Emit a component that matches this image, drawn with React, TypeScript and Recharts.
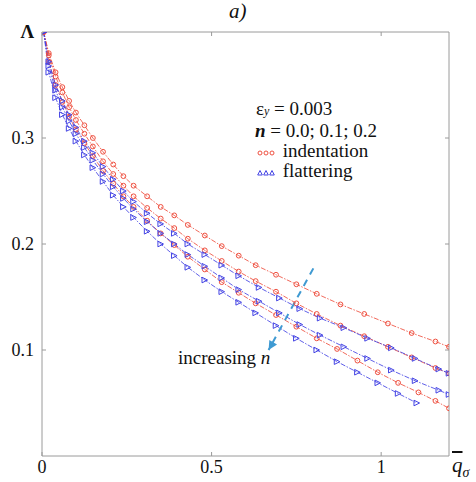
import React from "react";
import {
  LineChart,
  Line,
  XAxis,
  YAxis,
} from "recharts";

// indentation (red), n = 0.0; 0.1; 0.2
const xR0 = [0.005, 0.02, 0.04, 0.06, 0.08, 0.1, 0.125, 0.15, 0.18, 0.21, 0.24, 0.27, 0.31, 0.35, 0.39, 0.43, 0.48, 0.53, 0.58, 0.63, 0.69, 0.75, 0.81, 0.88, 0.95, 1.02, 1.09, 1.16, 1.2];
const yR0 = [0.4, 0.38, 0.362, 0.348, 0.335, 0.324, 0.312, 0.3, 0.287, 0.275, 0.264, 0.255, 0.245, 0.235, 0.227, 0.218, 0.208, 0.198, 0.189, 0.18, 0.171, 0.162, 0.153, 0.143, 0.134, 0.125, 0.116, 0.108, 0.103];

const xR1 = [0.005, 0.02, 0.04, 0.06, 0.08, 0.1, 0.125, 0.15, 0.18, 0.21, 0.24, 0.27, 0.31, 0.35, 0.39, 0.43, 0.48, 0.53, 0.58, 0.63, 0.69, 0.75, 0.81, 0.88, 0.95, 1.02, 1.09, 1.16, 1.2];
const yR1 = [0.4, 0.378, 0.358, 0.343, 0.329, 0.317, 0.304, 0.292, 0.278, 0.266, 0.255, 0.245, 0.234, 0.224, 0.215, 0.205, 0.194, 0.184, 0.174, 0.165, 0.155, 0.144, 0.134, 0.123, 0.113, 0.103, 0.093, 0.083, 0.078];

const xR2 = [0.005, 0.02, 0.04, 0.06, 0.08, 0.1, 0.125, 0.15, 0.18, 0.21, 0.24, 0.27, 0.31, 0.35, 0.39, 0.43, 0.48, 0.53, 0.58, 0.63, 0.69, 0.75, 0.81, 0.87, 0.93, 0.99, 1.05, 1.11, 1.16, 1.2];
const yR2 = [0.4, 0.372, 0.35, 0.334, 0.32, 0.308, 0.295, 0.283, 0.269, 0.257, 0.245, 0.235, 0.222, 0.21, 0.199, 0.188, 0.176, 0.164, 0.154, 0.144, 0.133, 0.122, 0.111, 0.101, 0.09, 0.079, 0.069, 0.06, 0.052, 0.045];

// flattering (blue), n = 0.0; 0.1; 0.2
const xB0 = [0.005, 0.02, 0.04, 0.06, 0.08, 0.1, 0.125, 0.15, 0.18, 0.21, 0.24, 0.27, 0.31, 0.35, 0.39, 0.43, 0.48, 0.53, 0.58, 0.64, 0.7, 0.76, 0.82, 0.89, 0.96, 1.03, 1.1, 1.17, 1.2];
const yB0 = [0.4, 0.372, 0.35, 0.335, 0.322, 0.31, 0.297, 0.286, 0.273, 0.261, 0.25, 0.24, 0.229, 0.219, 0.21, 0.2, 0.19, 0.18, 0.17, 0.159, 0.149, 0.139, 0.13, 0.121, 0.111, 0.102, 0.092, 0.082, 0.078];

const xB1 = [0.005, 0.02, 0.04, 0.06, 0.08, 0.1, 0.125, 0.15, 0.18, 0.21, 0.24, 0.27, 0.31, 0.35, 0.39, 0.43, 0.48, 0.53, 0.58, 0.64, 0.7, 0.76, 0.82, 0.89, 0.96, 1.03, 1.1, 1.17, 1.2];
const yB1 = [0.4, 0.368, 0.345, 0.329, 0.316, 0.304, 0.291, 0.279, 0.266, 0.254, 0.243, 0.233, 0.221, 0.21, 0.2, 0.19, 0.179, 0.168, 0.157, 0.146, 0.135, 0.124, 0.114, 0.103, 0.092, 0.081, 0.071, 0.062, 0.058];

const xB2 = [0.005, 0.02, 0.04, 0.06, 0.08, 0.1, 0.125, 0.15, 0.18, 0.21, 0.24, 0.27, 0.31, 0.35, 0.39, 0.43, 0.48, 0.53, 0.58, 0.63, 0.69, 0.75, 0.81, 0.87, 0.93, 0.99, 1.05, 1.105];
const yB2 = [0.4, 0.362, 0.338, 0.322, 0.309, 0.297, 0.284, 0.272, 0.259, 0.246, 0.235, 0.225, 0.212, 0.2, 0.189, 0.178, 0.166, 0.155, 0.145, 0.135, 0.123, 0.111, 0.1, 0.089, 0.079, 0.069, 0.059, 0.05];

// "increasing n" arrow
const arrowX = [0.8, 0.668];
const arrowY = [0.177, 0.1];

const xTicks = [0, 0.5, 1];
const yTicks = [0.1, 0.2, 0.3, 0.4];

const RED = "#ef5040";
const BLUE = "#4444e4";
const ARROW = "#3f9ad2";
const AXIS = "#9a9a9a";
const FONT = "'Liberation Serif', 'Times New Roman', serif";

const pts = (xs: number[], ys: number[]) => xs.map((x, i) => ({ x, y: ys[i] }));

const series = [
  { key: "r0", data: pts(xR0, yR0), color: RED, kind: "circle" },
  { key: "r1", data: pts(xR1, yR1), color: RED, kind: "circle" },
  { key: "r2", data: pts(xR2, yR2), color: RED, kind: "circle" },
  { key: "b0", data: pts(xB0, yB0), color: BLUE, kind: "tri" },
  { key: "b1", data: pts(xB1, yB1), color: BLUE, kind: "tri" },
  { key: "b2", data: pts(xB2, yB2), color: BLUE, kind: "tri" },
];

const CircleDot = (props: any) => {
  const { cx, cy, index } = props;
  if (cx == null || cy == null) return <g key={index} />;
  return <circle key={index} cx={cx} cy={cy} r={2.4} fill="none" stroke={RED} strokeWidth={1} />;
};

const TriDot = (props: any) => {
  const { cx, cy, index } = props;
  if (cx == null || cy == null) return <g key={index} />;
  const s = 2.8;
  return (
    <polygon
      key={index}
      points={`${cx + s},${cy} ${cx - s},${cy - s} ${cx - s},${cy + s}`}
      fill="none"
      stroke={BLUE}
      strokeWidth={1}
    />
  );
};

const ArrowDot = (props: any) => {
  const { cx, cy, index } = props;
  if (index !== 1 || cx == null) return <g key={index} />;
  const ang = Math.atan2(70, -42);
  const len = 9;
  const w = 4.5;
  const bx = cx - Math.cos(ang) * len;
  const by = cy - Math.sin(ang) * len;
  const px = -Math.sin(ang) * w;
  const py = Math.cos(ang) * w;
  return (
    <polygon
      key={index}
      points={`${cx},${cy} ${bx + px},${by + py} ${bx - px},${by - py}`}
      fill={ARROW}
      stroke="none"
    />
  );
};

const XTick = (props: any) => {
  const { x, y, payload } = props;
  return (
    <g>
      <line x1={x} y1={y} x2={x} y2={y - 4} stroke={AXIS} />
      <text x={x} y={y + 17} textAnchor="middle" fontFamily={FONT} fontSize={18} fill="#111">
        {String(payload.value)}
      </text>
    </g>
  );
};

const XTopTick = (props: any) => {
  const { x, y } = props;
  return <line x1={x} y1={y} x2={x} y2={y + 4} stroke={AXIS} />;
};

const YTick = (props: any) => {
  const { x, y, payload } = props;
  const v = payload.value;
  return (
    <g>
      {v < 0.35 && <line x1={x} y1={y} x2={x + 4} y2={y} stroke={AXIS} />}
      <text
        x={x - 8}
        y={y + 6}
        textAnchor="end"
        fontFamily={FONT}
        fontSize={v > 0.35 ? 19 : 18}
        fontWeight={v > 0.35 ? "bold" : "normal"}
        fill="#111"
      >
        {v > 0.35 ? "Λ" : v.toFixed(1)}
      </text>
    </g>
  );
};

const YRightTick = (props: any) => {
  const { x, y, payload } = props;
  if (payload.value > 0.35) return <g />;
  return <line x1={x} y1={y} x2={x - 4} y2={y} stroke={AXIS} />;
};

const LegendMarks = ({ kind }: { kind: string }) => (
  <svg width={18} height={8} style={{ verticalAlign: "middle" }}>
    {[3, 9, 15].map((cx) =>
      kind === "circle" ? (
        <circle key={cx} cx={cx} cy={4} r={2} fill="none" stroke={RED} strokeWidth={1} />
      ) : (
        <polygon
          key={cx}
          points={`${cx},${1.5} ${cx - 2.3},${6} ${cx + 2.3},${6}`}
          fill="none"
          stroke={BLUE}
          strokeWidth={1}
        />
      )
    )}
  </svg>
);

const txt: React.CSSProperties = {
  position: "absolute",
  fontFamily: FONT,
  color: "#111",
  whiteSpace: "nowrap",
  lineHeight: 1,
};

export default function App() {
  return (
    <div style={{ position: "absolute", left: 0, top: 0, width: 476, height: 482, background: "#fff" }}>
      <LineChart width={476} height={482} margin={{ top: 0, right: 0, bottom: 0, left: 0 }}>
        <XAxis
          xAxisId="b"
          type="number"
          dataKey="x"
          domain={[0, 1.2]}
          ticks={xTicks}
          height={26}
          tickSize={0}
          tickMargin={0}
          axisLine={{ stroke: AXIS }}
          tickLine={false}
          tick={<XTick />}
          interval={0}
          allowDataOverflow
        />
        <XAxis
          xAxisId="t"
          orientation="top"
          type="number"
          dataKey="x"
          domain={[0, 1.2]}
          ticks={xTicks}
          height={32}
          tickSize={0}
          tickMargin={0}
          axisLine={{ stroke: AXIS }}
          tickLine={false}
          tick={<XTopTick />}
          interval={0}
          allowDataOverflow
        />
        <YAxis
          yAxisId="l"
          type="number"
          domain={[0, 0.4]}
          ticks={yTicks}
          width={42}
          tickSize={0}
          tickMargin={0}
          axisLine={{ stroke: AXIS }}
          tickLine={false}
          tick={<YTick />}
          interval={0}
          allowDataOverflow
        />
        <YAxis
          yAxisId="r"
          orientation="right"
          type="number"
          domain={[0, 0.4]}
          ticks={yTicks}
          width={27}
          tickSize={0}
          tickMargin={0}
          axisLine={{ stroke: AXIS }}
          tickLine={false}
          tick={<YRightTick />}
          interval={0}
          allowDataOverflow
        />
        {series.map((s) => (
          <Line
            key={s.key}
            xAxisId="b"
            yAxisId="l"
            data={s.data}
            dataKey="y"
            type="linear"
            stroke={s.color}
            strokeWidth={1}
            strokeOpacity={0.85}
            strokeDasharray="5 1.5 1.5 1.5"
            dot={s.kind === "circle" ? <CircleDot /> : <TriDot />}
            activeDot={false}
            isAnimationActive={false}
          />
        ))}
        <Line
          xAxisId="b"
          yAxisId="l"
          data={pts(arrowX, arrowY)}
          dataKey="y"
          type="linear"
          stroke={ARROW}
          strokeWidth={2}
          strokeDasharray="7 6"
          dot={<ArrowDot />}
          activeDot={false}
          isAnimationActive={false}
        />
      </LineChart>

      <div style={{ ...txt, left: 229, top: 1, fontSize: 21, fontStyle: "italic" }}>a)</div>
      <div style={{ ...txt, left: 452, top: 455, fontSize: 21, fontStyle: "italic" }}>
        <span style={{ textDecoration: "overline" }}>q</span>
        <sub style={{ fontSize: 14 }}>σ</sub>
      </div>
      <div style={{ ...txt, left: 256, top: 99, fontSize: 19 }}>
        ε<span style={{ fontSize: 12, fontStyle: "italic", lineHeight: 1 }}>y</span> = 0.003
      </div>
      <div style={{ ...txt, left: 255, top: 121, fontSize: 19 }}>
        <i><b>n</b></i> = 0.0; 0.1; 0.2
      </div>
      <div style={{ ...txt, left: 257, top: 141, fontSize: 19 }}>
        <LegendMarks kind="circle" /> <span style={{ marginLeft: 3 }}>indentation</span>
      </div>
      <div style={{ ...txt, left: 257, top: 161, fontSize: 19 }}>
        <LegendMarks kind="tri" /> <span style={{ marginLeft: 3 }}>flattering</span>
      </div>
      <div style={{ ...txt, left: 178, top: 348, fontSize: 19 }}>
        increasing <i>n</i>
      </div>
    </div>
  );
}
